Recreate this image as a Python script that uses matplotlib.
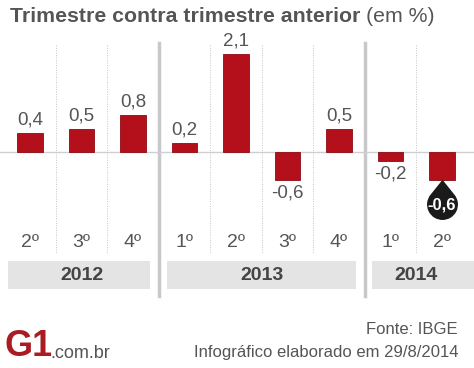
import matplotlib
matplotlib.use('Agg')
import matplotlib.pyplot as plt
from matplotlib.path import Path
import numpy as np

plt.rcParams['font.family'] = ['Liberation Sans', 'DejaVu Sans']

# dados
quarters = ['2º', '3º', '4º', '1º', '2º', '3º', '4º', '1º', '2º']
values = [0.4, 0.5, 0.8, 0.2, 2.1, -0.6, 0.5, -0.2, -0.6]
years = ['2012', '2013', '2014']
year_span = [(0, 2), (3, 6), (7, 8)]

BAR = '#b3101b'
GRAY = '#555555'

# conversao pixel -> dados (figura 474x368)
def px(p):
  return (p - 30) / 51.5

def py(p):
  return (152 - p) / 46.7

fig = plt.figure(figsize=(4.74, 3.68), dpi=100)
ax = fig.add_axes([0, 0, 1, 1])
ax.set_xlim(px(0), px(474))
ax.set_ylim(py(368), py(0))
ax.axis('off')

x = np.arange(len(values))

# separadores
for i in range(len(values) - 1):
  sep = i + 0.5
  if i in (2, 6):
    ax.plot([sep, sep], [py(43), py(296)], color='#c8c8c8', lw=2.5, zorder=1)
  else:
    ax.plot([sep, sep], [py(45), py(254)], color='#c4c4c4', lw=0.7,
            linestyle=(0, (1, 1.5)), zorder=1)

ax.axhline(0, color='#cfcfcf', lw=1, zorder=1)

ax.bar(x, values, width=0.5, color=BAR, edgecolor='#8e0a12', lw=0.6, zorder=3)

def fmt(v):
  return ('%.1f' % v).replace('.', ',')

off = 13 / 46.7
for i, v in enumerate(values):
  if i == len(values) - 1:
    continue
  y = v + off if v >= 0 else v - off
  ax.text(i, y, fmt(v), ha='center', va='center', fontsize=13.5, color=GRAY, zorder=4)

# gota para o ultimo valor
d = 1.6
phi = np.degrees(np.arccos(1 / d))
arc = Path.arc(90 + phi, 450 - phi)
verts = np.vstack([arc.vertices, [[0, d], arc.vertices[0]]])
codes = list(arc.codes) + [Path.LINETO, Path.CLOSEPOLY]
drop = Path(verts, codes)
last = len(values) - 1
drop_y = values[last] - 24 / 46.7
ax.plot(last, drop_y, marker=drop, markersize=34, color='#1a1a1a', zorder=4)
ax.text(last, drop_y - 1 / 46.7, fmt(values[last]), ha='center', va='center',
        fontsize=12, fontweight='bold', color='white', zorder=5)

# trimestres
for i, q in enumerate(quarters):
  ax.text(i, py(242), q, ha='center', va='center', fontsize=14, color=GRAY)

# anos
box_px = [(8, 150), (167, 356), (372, 474)]
for (a, b), (l, r), yr in zip(year_span, box_px, years):
  ax.fill_between([px(l), px(r)], py(261), py(289), color='#e4e4e4', lw=0, zorder=0)
  ax.text((a + b) / 2, py(275), yr, ha='center', va='center', fontsize=14,
          fontweight='bold', color='#444444')

# titulo
t = fig.text(10 / 474, 1 - 16 / 368, 'Trimestre contra trimestre anterior', fontsize=15.3,
             fontweight='bold', color=GRAY, va='center')
fig.canvas.draw()
bb = t.get_window_extent()
fig.text((bb.x1 + 6) / 474, 1 - 16 / 368, '(em %)', fontsize=15.3, color=GRAY, va='center')

# rodape
fig.text(458 / 474, 1 - 329 / 368, 'Fonte: IBGE', fontsize=12, color=GRAY,
         ha='right', va='center')
fig.text(458 / 474, 1 - 353 / 368, 'Infográfico elaborado em 29/8/2014', fontsize=12,
         color=GRAY, ha='right', va='center')
fig.text(4 / 474, 1 - 346 / 368, 'G1', fontsize=26, fontweight='heavy', color='#a81c22',
         ha='left', va='center')
fig.text(50 / 474, 1 - 353 / 368, '.com.br', fontsize=13, color=GRAY,
         ha='left', va='center')

fig.savefig('out.png', dpi=100)
